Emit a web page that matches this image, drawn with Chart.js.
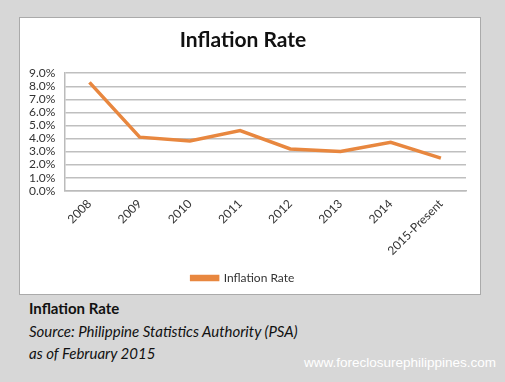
<!DOCTYPE html>
<html>
<head>
<meta charset="utf-8">
<script src="https://cdn.jsdelivr.net/npm/chart.js"></script>
<style>
  body{ margin:0; width:505px; height:382px; background:#d7d7d7; position:relative; overflow:hidden; font-family:Lato, "Open Sans", sans-serif; }
  .box{ position:absolute; left:19px; top:17px; width:460px; height:276px; background:#fff; border:1px solid #aaa; }
  .cap{ position:absolute; left:29px; color:#111; font-size:15px; }
  .wm{ position:absolute; left:304px; top:355px; color:#fff; font-family:"Liberation Sans", Arial, sans-serif; font-size:13.5px; }
</style>
</head>
<body>
<div class="box"><canvas id="inflChart" width="460" height="276"></canvas></div>
<div class="cap" style="top:299px;font-weight:bold;">Inflation Rate</div>
<div class="cap" style="top:322px;font-style:italic;">Source: Philippine Statistics Authority (PSA)</div>
<div class="cap" style="top:344px;font-style:italic;">as of February 2015</div>
<div class="wm">www.foreclosurephilippines.com</div>
<script>
const years = ["2008","2009","2010","2011","2012","2013","2014","2015-Present"];
const inflation = [8.3, 4.1, 3.8, 4.6, 3.2, 3.0, 3.7, 2.5];

const orange = '#e8873f';

new Chart(document.getElementById('inflChart'), {
  type: 'line',
  data: {
    labels: years,
    datasets: [{
      label: 'Inflation Rate',
      data: inflation,
      borderColor: orange,
      backgroundColor: orange,
      borderWidth: 3.5,
      pointRadius: 0,
      tension: 0
    }]
  },
  options: {
    responsive: false,
    animation: false,
    layout: { padding: { left: 0, right: 14, top: 4, bottom: 0 } },
    plugins: {
      title: {
        display: true,
        text: 'Inflation Rate',
        color: '#111',
        font: { family: 'Lato', size: 21, weight: 'bold' },
        padding: { top: 6, bottom: 20 }
      },
      legend: {
        position: 'bottom',
        labels: {
          color: '#333',
          font: { family: 'Lato', size: 12 },
          boxWidth: 26,
          boxHeight: 3,
          padding: 8
        }
      },
      tooltip: { enabled: false }
    },
    scales: {
      x: {
        offset: true,
        grid: { display: false, drawTicks: false },
        border: { display: true, color: '#bbb', width: 1.5 },
        ticks: {
          color: '#333',
          font: { family: 'Lato', size: 12 },
          minRotation: 45,
          maxRotation: 45,
          padding: 6
        }
      },
      y: {
        min: 0,
        max: 9,
        grid: { color: '#bfbfbf', lineWidth: 1.5, drawTicks: false },
        border: { display: true, color: '#bbb', width: 1.5 },
        ticks: {
          color: '#333',
          font: { family: 'Lato', size: 12 },
          stepSize: 1,
          autoSkip: false,
          padding: 9,
          callback: v => v.toFixed(1) + '%'
        }
      }
    }
  }
});
</script>
</body>
</html>
